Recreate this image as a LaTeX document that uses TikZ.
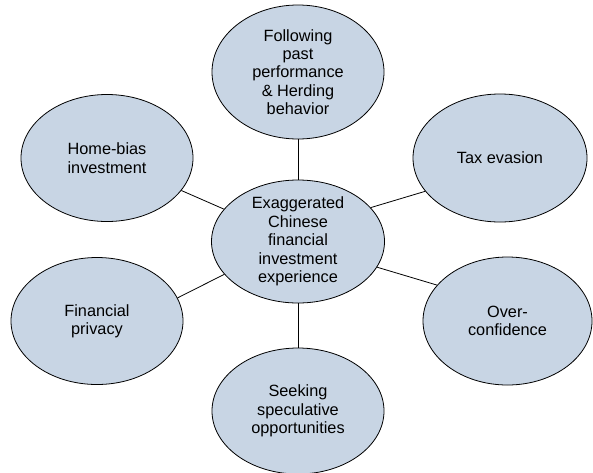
\documentclass[tikz,border=0pt]{standalone}
\usepackage{fontspec}
\setmainfont{Liberation Sans}
\usetikzlibrary{shapes.geometric}
\definecolor{bubble}{RGB}{200,213,228}
\tikzset{
  bub/.style={ellipse, draw=black, line width=0.8pt, fill=bubble, inner sep=-6pt,
    align=center, font=\fontsize{16.3pt}{18.4pt}\selectfont},
  link/.style={draw=black, line width=0.8pt}
}
\begin{document}
\begin{tikzpicture}[x=1pt,y=-1pt]
\useasboundingbox[fill=white] (0,0) rectangle (593,472);
\node[bub, minimum width=173pt, minimum height=123pt] (c) at (298,241.5) {Exaggerated\\Chinese\\financial\\investment\\experience};
\node[bub, minimum width=172pt, minimum height=134pt] (top) at (298,72) {Following\\past\\performance\\\&~Herding\\behavior};
\node[bub, minimum width=172pt, minimum height=127pt] (home) at (107,158) {Home-bias\\investment};
\node[bub, minimum width=174pt, minimum height=128pt] (tax) at (500,158) {Tax evasion};
\node[bub, minimum width=172pt, minimum height=127pt] (fin) at (97,321) {Financial\\privacy};
\node[bub, minimum width=169pt, minimum height=128pt] (over) at (507.5,321) {Over-\\confidence};
\node[bub, minimum width=172pt, minimum height=126pt] (seek) at (298,411) {Seeking\\speculative\\opportunities};
\draw[link] (top) -- (c);
\draw[link] (c) -- (seek);
\draw[link] (home) -- (c);
\draw[link] (c.25) -- (tax.204);
\draw[link] (fin.16) -- (c.204);
\draw[link] (c.-18) -- (over.153);
\end{tikzpicture}
\end{document}
